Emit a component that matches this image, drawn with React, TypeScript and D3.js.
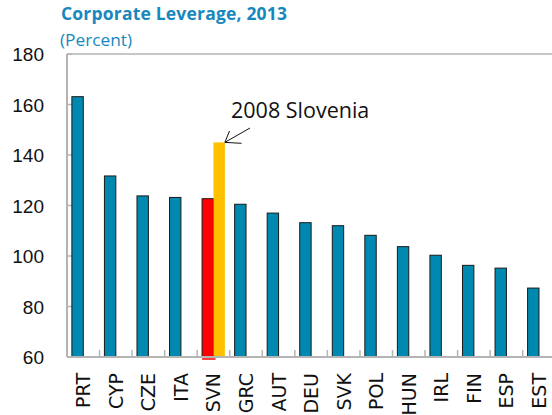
import React from "react";
import * as d3 from "d3";

const categories = ["PRT","CYP","CZE","ITA","SVN","GRC","AUT","DEU","SVK","POL","HUN","IRL","FIN","ESP","EST"];
const values2013 = [163.1,131.7,123.8,123.2,122.7,120.5,117.0,113.2,112.0,108.2,103.7,100.3,96.3,95.2,87.3];
const values2008: (number | null)[] = [null,null,null,null,145.0,null,null,null,null,null,null,null,null,null,null];
const yTicks = [60,80,100,120,140,160,180];
const highlight = "SVN";

const W = 552, H = 415;
const left = 67, top = 54, bottom = 357;

export default function App() {
  const x = d3.scaleBand<string>().domain(categories).range([left, left + 15 * 32.55]).paddingInner(0).paddingOuter(0);
  const y = d3.scaleLinear().domain([60, 180]).range([bottom, top]);
  const bw = x.bandwidth();
  const barW = bw * 0.35;
  const grey = "#b4b4b4";
  const teal = "#0089b0";
  const svn = x(highlight)! + bw / 2;
  const svn08 = values2008[categories.indexOf(highlight)]!;
  const arrowTipX = svn + barW;
  const arrowTipY = y(svn08);
  return (
    <svg width={W} height={H} style={{ position: "absolute", left: 0, top: 0 }}>
      <rect x={0} y={0} width={W} height={H} fill="#fff" />
      <text x={61} y={20} fontFamily="Open Sans, Noto Sans, sans-serif" fontWeight="bold" fontSize={17.5} fill="#1788bd" textLength={226} lengthAdjust="spacing">Corporate Leverage, 2013</text>
      <text x={60} y={46} fontFamily="Open Sans, Noto Sans, sans-serif" fontSize={17} fill="#1788bd" textLength={72} lengthAdjust="spacingAndGlyphs">(Percent)</text>
      {/* frame */}
      <line x1={left} x2={W} y1={top} y2={top} stroke={grey} strokeWidth={1.5} />
      <line x1={left} x2={left} y1={top} y2={bottom} stroke={grey} strokeWidth={2} />
      {yTicks.map(t => (
        <g key={t}>
          <line x1={left} x2={left + 5} y1={y(t)} y2={y(t)} stroke={grey} strokeWidth={1.5} />
          <text x={44} y={y(t) + 7} textAnchor="end" fontFamily="Liberation Sans, Arial, sans-serif" fontSize={19} fill="#111">{t}</text>
        </g>
      ))}
      {categories.slice(1).map(c => (
        <line key={c} x1={x(c)!} x2={x(c)!} y1={bottom} y2={bottom - 7} stroke={grey} strokeWidth={1.5} />
      ))}
      {categories.map((c, i) => {
        const cx = x(c)! + bw / 2;
        const isH = c === highlight;
        const v = values2013[i];
        const v8 = values2008[i];
        return (
          <g key={c}>
            <rect x={cx - barW} y={y(v)} width={barW} height={bottom - y(v)} fill={isH ? "#ff0000" : teal} stroke="#1a1a1a" strokeWidth={1} />
            {isH && <line x1={cx - barW} x2={cx + 2} y1={bottom + 2} y2={bottom + 2} stroke="#ff0000" strokeWidth={1.5} />}
            {v8 != null && <rect x={cx} y={y(v8)} width={barW} height={bottom - y(v8)} fill="#ffc000" />}
          </g>
        );
      })}
      <line x1={left} x2={W} y1={bottom} y2={bottom} stroke={grey} strokeWidth={2} />
      {categories.map(c => (
        <text key={c} transform={`translate(${x(c)! + bw / 2 + 7},373) rotate(-90)`} textAnchor="end" fontFamily="DejaVu Sans, sans-serif" fontSize={19} fill="#111">{c}</text>
      ))}
      {/* annotation */}
      <text x={231} y={118} fontFamily="Open Sans, Noto Sans, sans-serif" fontSize={21.5} fill="#111">2008 Slovenia</text>
      <line x1={250} y1={128} x2={arrowTipX} y2={arrowTipY} stroke="#111" strokeWidth={1} />
      <line x1={arrowTipX} y1={arrowTipY} x2={229.5} y2={131} stroke="#111" strokeWidth={1} />
      <line x1={arrowTipX} y1={arrowTipY} x2={241.5} y2={143.3} stroke="#111" strokeWidth={1} />
    </svg>
  );
}
